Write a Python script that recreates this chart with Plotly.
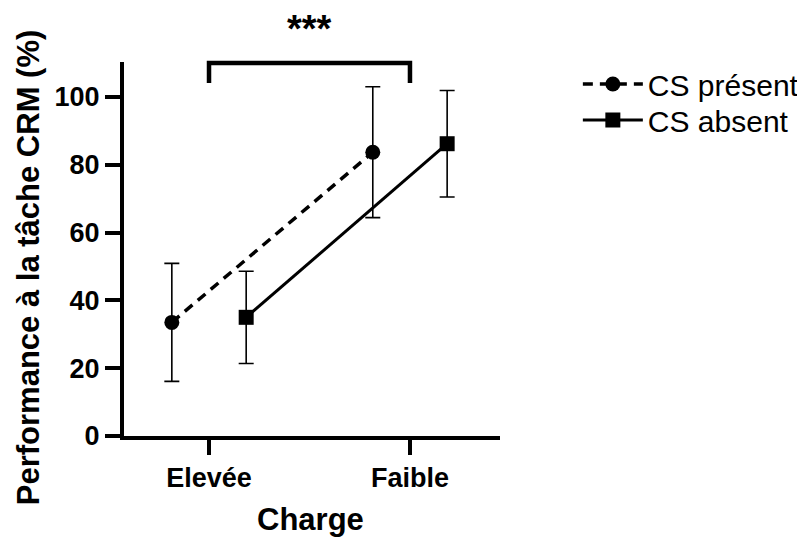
import plotly.graph_objects as go

categories = ["Elevée", "Faible"]
present_mean = [33.5, 83.7]
present_err = [17.4, 19.3]
absent_mean = [35.0, 86.2]
absent_err = [13.6, 15.7]
y_ticks = [0, 20, 40, 60, 80, 100]

FONT = "Arial, Liberation Sans, sans-serif"
shift = 0.185
pos = list(range(len(categories)))

fig = go.Figure()
fig.add_trace(
    go.Scatter(
        x=[p - shift for p in pos],
        y=present_mean,
        mode="lines+markers",
        name="CS présent",
        legend="legend",
        line=dict(color="black", width=3.5, dash="10px,7px"),
        marker=dict(symbol="circle", size=15, color="black"),
        error_y=dict(type="data", array=present_err, color="black", thickness=1.6, width=7.5),
    )
)
fig.add_trace(
    go.Scatter(
        x=[p + shift for p in pos],
        y=absent_mean,
        mode="lines+markers",
        name="CS absent",
        legend="legend2",
        line=dict(color="black", width=3),
        marker=dict(symbol="square", size=15, color="black"),
        error_y=dict(type="data", array=absent_err, color="black", thickness=1.6, width=7.5),
    )
)

# significance bracket between the two load levels
fig.add_shape(
    type="path",
    xref="x",
    yref="paper",
    path="M 0,0.944 L 0,0.997 L 1,0.997 L 1,0.944",
    line=dict(color="black", width=4.5),
    fillcolor="rgba(0,0,0,0)",
    opacity=1,
)
fig.add_annotation(
    x=0.5, xref="x", y=1.088, yref="paper",
    xanchor="center", yanchor="middle",
    text="<b>***</b>", showarrow=False,
    font=dict(family=FONT, size=38, color="black"),
)
fig.add_annotation(
    x=-0.255, xref="paper", y=0.449, yref="paper",
    xanchor="center", yanchor="middle",
    text="<b>Performance à la tâche CRM (%)</b>", textangle=-90, showarrow=False,
    font=dict(family=FONT, size=31, color="black"),
)
fig.add_annotation(
    x=0.496, xref="paper", y=-0.222, yref="paper",
    xanchor="center", yanchor="middle",
    text="<b>Charge</b>", showarrow=False,
    font=dict(family=FONT, size=31, color="black"),
)

fig.update_xaxes(
    range=[-0.423, 1.448],
    tickvals=pos,
    ticktext=[f"<b>{c}</b>" for c in categories],
    showline=True, linewidth=4, linecolor="black",
    ticks="outside", ticklen=15, tickwidth=4, tickcolor="black",
    showgrid=False, zeroline=False,
    tickfont=dict(family=FONT, size=27, color="black"),
)
fig.update_yaxes(
    range=[0, 110.3],
    tickvals=y_ticks,
    ticktext=[f"<b>{t}</b>" for t in y_ticks],
    showline=True, linewidth=4, linecolor="black",
    ticks="outside", ticklen=15, tickwidth=4, tickcolor="black",
    showgrid=False, zeroline=False,
    tickfont=dict(family=FONT, size=27, color="black"),
)

legend_style = dict(
    xref="container", yref="container", x=0.715, xanchor="left", yanchor="top",
    font=dict(family=FONT, size=30, color="black"),
    bgcolor="rgba(0,0,0,0)", itemwidth=60,
)
fig.update_layout(
    width=797,
    height=530,
    template="simple_white",
    plot_bgcolor="white",
    paper_bgcolor="white",
    showlegend=True,
    margin=dict(l=116, r=305, t=54, b=102),
    legend=dict(y=0.9057, **legend_style),
    legend2=dict(y=0.8377, **legend_style),
)
fig.write_html("out.html")
